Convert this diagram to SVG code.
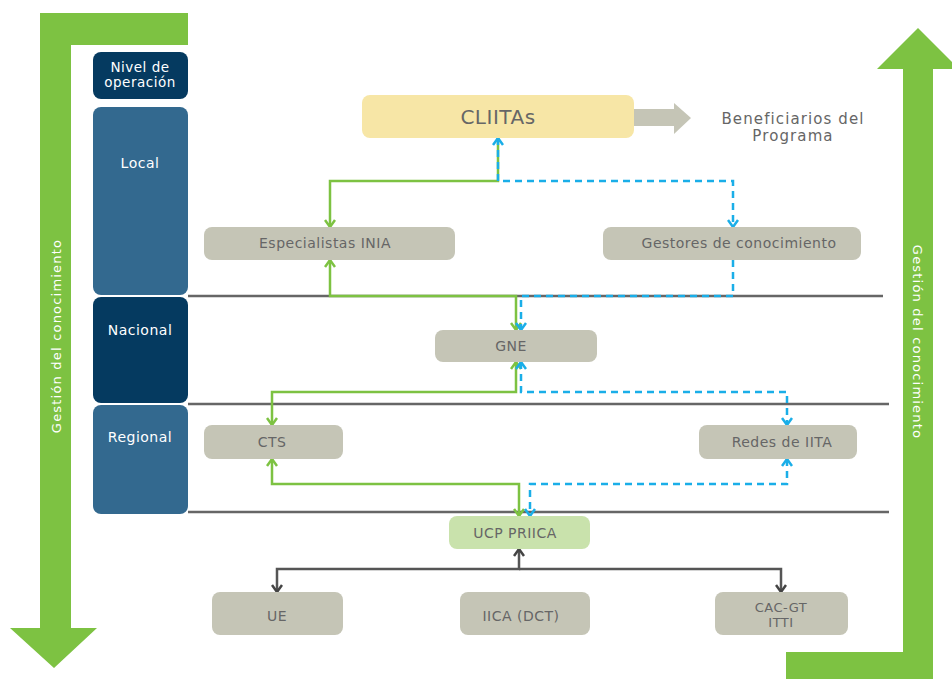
<svg xmlns="http://www.w3.org/2000/svg" width="952" height="679" viewBox="0 0 952 679">
<style>
.lvl{fill:#fff;font-family:"DejaVu Sans","Liberation Sans",sans-serif;font-size:14px;text-anchor:middle;letter-spacing:0.5px}
.vt{fill:#fff;font-family:"DejaVu Sans","Liberation Sans",sans-serif;font-size:13px;text-anchor:middle;letter-spacing:1.2px}
.box{fill:#c5c5b6}
.t{fill:#666;font-family:"DejaVu Sans","Liberation Sans",sans-serif;font-size:14px;text-anchor:middle;letter-spacing:0.5px}
.sep{stroke:#666;stroke-width:2.5;fill:none}
.g{stroke:#7dc242;stroke-width:2.5;fill:none}
.b{stroke:#1aaee8;stroke-width:2.5;fill:none;stroke-dasharray:7 5}
.d{stroke:#555;stroke-width:2.5;fill:none}
</style>
<defs>
<marker id="mg" viewBox="0 0 12 12" refX="11" refY="6" markerWidth="12" markerHeight="12" markerUnits="userSpaceOnUse" orient="auto-start-reverse"><path d="M4,1 L11,6 L4,11" fill="none" stroke="#7dc242" stroke-width="2.5"/></marker>
<marker id="mb" viewBox="0 0 12 12" refX="11" refY="6" markerWidth="12" markerHeight="12" markerUnits="userSpaceOnUse" orient="auto-start-reverse"><path d="M4,1 L11,6 L4,11" fill="none" stroke="#1aaee8" stroke-width="2.5"/></marker>
<marker id="md" viewBox="0 0 12 12" refX="11" refY="6" markerWidth="12" markerHeight="12" markerUnits="userSpaceOnUse" orient="auto-start-reverse"><path d="M4,1 L11,6 L4,11" fill="none" stroke="#444" stroke-width="2.5"/></marker>
</defs>

<g id="bigarrows">
<polygon points="40,13 188,13 188,45 71,45 71,628 97,628 54,668 10,628 40,628" fill="#7dc242"/>
<polygon points="786,652 903,652 903,69 877,69 918,28 959,69 933,69 933,679 786,679" fill="#7dc242"/>
<text transform="translate(61,336) rotate(-90)" class="vt">Gestión del conocimiento</text>
<text transform="translate(913,342) rotate(90)" class="vt">Gestión del conocimiento</text>
</g>

<g id="levels">
<rect x="93" y="52" width="95" height="47" rx="8" fill="#053a60"/>
<text class="lvl" style="font-size:13.5px" x="140" y="72">Nivel de</text>
<text class="lvl" style="font-size:13.5px" x="140" y="87">operación</text>
<rect x="93" y="107" width="95" height="188" rx="8" fill="#33698f"/>
<text class="lvl" x="140" y="168">Local</text>
<rect x="93" y="297" width="95" height="106" rx="8" fill="#053a60"/>
<text class="lvl" x="140" y="335">Nacional</text>
<rect x="93" y="405" width="95" height="109" rx="8" fill="#33698f"/>
<text class="lvl" x="140" y="442">Regional</text>
</g>

<g id="separators">
<line class="sep" x1="188" y1="296" x2="883" y2="296"/>
<line class="sep" x1="188" y1="404" x2="889" y2="404"/>
<line class="sep" x1="188" y1="512" x2="889" y2="512"/>
</g>

<g id="connectors">
<path class="g" d="M498,138 V181 H330 V227" marker-end="url(#mg)"/>
<path class="b" d="M498,138 V181 H733 V227" marker-start="url(#mb)" marker-end="url(#mb)"/>
<path class="g" d="M330,260 V296 H516 V330" marker-start="url(#mg)" marker-end="url(#mg)"/>
<path class="b" d="M733,260 V296 H521 V330" marker-end="url(#mb)"/>
<path class="g" d="M516,362 V392 H272 V425" marker-start="url(#mg)" marker-end="url(#mg)"/>
<path class="b" d="M521,362 V392 H787 V425" marker-start="url(#mb)" marker-end="url(#mb)"/>
<path class="g" d="M272,459 V484 H519 V516" marker-start="url(#mg)" marker-end="url(#mg)"/>
<path class="b" d="M787,459 V484 H530 V516" marker-start="url(#mb)" marker-end="url(#mb)"/>
<path class="d" d="M519,549 V569 H277 V592" marker-start="url(#md)" marker-end="url(#md)"/>
<path class="d" d="M519,569 H781 V592" marker-end="url(#md)"/>
</g>

<g id="cliitas">
<rect x="362" y="95" width="272" height="43" rx="8" fill="#f7e6a6"/>
<text class="t" x="498" y="124" style="font-size:20px">CLIITAs</text>
</g>
<g id="beneficiarios">
<polygon points="634,109 674,109 674,103 691,118 674,134 674,126 634,126" fill="#c5c5b6"/>
<text class="t" x="793" y="124" style="font-size:15px;letter-spacing:1.1px">Beneficiarios del</text>
<text class="t" x="793" y="141" style="font-size:15px;letter-spacing:1.1px">Programa</text>
</g>
<g id="especialistas"><rect class="box" x="204" y="227" width="251" height="33" rx="8"/><text class="t" x="325" y="248">Especialistas INIA</text></g>
<g id="gestores"><rect class="box" x="603" y="227" width="258" height="33" rx="8"/><text class="t" x="739" y="248">Gestores de conocimiento</text></g>
<g id="gne"><rect class="box" x="435" y="330" width="162" height="32" rx="8"/><text class="t" x="511" y="351">GNE</text></g>
<g id="cts"><rect class="box" x="204" y="425" width="139" height="34" rx="8"/><text class="t" x="272" y="447">CTS</text></g>
<g id="redes"><rect class="box" x="699" y="425" width="158" height="34" rx="8"/><text class="t" x="782" y="447">Redes de IITA</text></g>
<g id="ucp"><rect x="449" y="516" width="141" height="33" rx="8" fill="#c9e2ac"/><text class="t" x="515" y="538">UCP PRIICA</text></g>
<g id="ue"><rect class="box" x="212" y="592" width="131" height="43" rx="8"/><text class="t" x="277" y="621">UE</text></g>
<g id="iica"><rect class="box" x="460" y="592" width="130" height="43" rx="8"/><text class="t" x="521" y="621">IICA (DCT)</text></g>
<g id="cac"><rect class="box" x="715" y="592" width="133" height="43" rx="8"/><text class="t" x="781" y="612" style="font-size:13px">CAC-GT</text><text class="t" x="781" y="627" style="font-size:13px">ITTI</text></g>
</svg>
